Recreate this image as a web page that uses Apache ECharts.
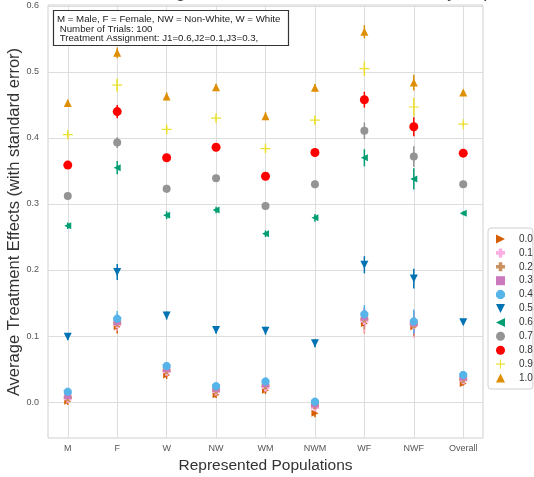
<!DOCTYPE html>
<html>
<head>
<meta charset="utf-8">
<script src="https://cdn.jsdelivr.net/npm/echarts@6/dist/echarts.min.js"></script>
<style>
html,body{margin:0;padding:0;background:#fff;}
#chart{width:534px;height:477px;}
</style>
</head>
<body>
<div id="chart"></div>
<script>
// ---- data ----
const categories = ['M', 'F', 'W', 'NW', 'WM', 'NWM', 'WF', 'NWF', 'Overall'];
const groupNames = ['0.0', '0.1', '0.2', '0.3', '0.4', '0.5', '0.6', '0.7', '0.8', '0.9', '1.0'];
const yTickValues = [0.0, 0.1, 0.2, 0.3, 0.4, 0.5, 0.6];

const mean00 = [0.001, 0.114, 0.041, 0.011, 0.018, -0.017, 0.119, 0.114, 0.028];
const mean01 = [0.005, 0.118, 0.046, 0.016, 0.022, -0.008, 0.123, 0.117, 0.033];
const mean02 = [0.007, 0.120, 0.048, 0.018, 0.025, -0.005, 0.126, 0.118, 0.035];
const mean03 = [0.010, 0.122, 0.051, 0.021, 0.028, -0.003, 0.129, 0.120, 0.038];
const mean04 = [0.0155, 0.126, 0.0545, 0.024, 0.031, 0.0005, 0.133, 0.122, 0.041];
const mean05 = [0.099, 0.197, 0.131, 0.109, 0.108, 0.089, 0.208, 0.187, 0.121];
const mean06 = [0.267, 0.355, 0.283, 0.291, 0.255, 0.279, 0.370, 0.338, 0.286];
const mean07 = [0.312, 0.393, 0.323, 0.339, 0.297, 0.330, 0.411, 0.372, 0.330];
const mean08 = [0.359, 0.440, 0.370, 0.386, 0.342, 0.378, 0.458, 0.417, 0.377];
const mean09 = [0.405, 0.480, 0.413, 0.430, 0.384, 0.427, 0.505, 0.447, 0.421];
const mean10 = [0.453, 0.529, 0.463, 0.477, 0.433, 0.476, 0.561, 0.484, 0.469];

const se00 = [0.005, 0.010, 0.006, 0.005, 0.006, 0.006, 0.015, 0.016, 0.003];
const se01 = [0.005, 0.010, 0.006, 0.006, 0.006, 0.006, 0.018, 0.020, 0.003];
const se02 = [0.005, 0.010, 0.006, 0.006, 0.006, 0.006, 0.016, 0.018, 0.003];
const se03 = [0.005, 0.011, 0.006, 0.006, 0.006, 0.006, 0.015, 0.018, 0.003];
const se04 = [0.005, 0.012, 0.006, 0.006, 0.006, 0.006, 0.014, 0.018, 0.003];
const se05 = [0.005, 0.012, 0.006, 0.005, 0.006, 0.006, 0.013, 0.015, 0.003];
const se06 = [0.005, 0.010, 0.006, 0.005, 0.005, 0.006, 0.013, 0.016, 0.003];
const se07 = [0.005, 0.008, 0.006, 0.005, 0.006, 0.006, 0.0125, 0.0155, 0.003];
const se08 = [0.005, 0.010, 0.006, 0.005, 0.006, 0.006, 0.012, 0.0145, 0.003];
const se09 = [0.005, 0.010, 0.006, 0.005, 0.006, 0.006, 0.011, 0.014, 0.003];
const se10 = [0.005, 0.008, 0.006, 0.005, 0.006, 0.006, 0.010, 0.012, 0.003];

const allMeans = [mean00, mean01, mean02, mean03, mean04, mean05, mean06, mean07, mean08, mean09, mean10];
const allSe = [se00, se01, se02, se03, se04, se05, se06, se07, se08, se09, se10];

// ---- styles ----
const colors = ['#d55e00', '#fbafe4', '#ca9161', '#cc78bc', '#56b4e9', '#0173b2', '#029e73', '#949494', '#ff0000', '#ece133', '#de8f05'];
const P_PLUS = 'path://M3,0H7V3H10V7H7V10H3V7H0V3H3Z';
const P_THINPLUS = 'path://M4.4,0H5.6V4.4H10V5.6H5.6V10H4.4V5.6H0V4.4H4.4Z';
const P_OCT = 'path://M3,0H7L10,3V7L7,10H3L0,7V3Z';
const P_RIGHT = 'path://M0,0L10,5L0,10Z';
const P_LEFT = 'path://M10,0L0,5L10,10Z';
const P_DOWN = 'path://M0,0H10L5,10Z';
const P_UP = 'path://M5,0L10,10H0Z';
const P_SQ = 'path://M0,0H10V10H0Z';
const symbols = [P_RIGHT, P_PLUS, P_PLUS, P_SQ, P_OCT, P_DOWN, P_LEFT, 'circle', 'circle', P_THINPLUS, P_UP];
const sizes = [7, 8, 8, 7, 8, 8, 7, 8, 9, 10, 8];
const FONT = "'Liberation Sans', Arial, sans-serif";

const series = [];
groupNames.forEach((g, k) => {
  const m = allMeans[k], s = allSe[k], col = colors[k];
  series.push({
    type: 'custom',
    silent: true,
    renderItem: function (params, api) {
      const x = api.value(0), y = api.value(1), e = api.value(2);
      const p1 = api.coord([x, y - e]);
      const p2 = api.coord([x, y + e]);
      return {type: 'line', shape: {x1: p1[0], y1: p1[1], x2: p2[0], y2: p2[1]}, style: {stroke: col, lineWidth: 1.5}};
    },
    encode: {x: 0, y: 1},
    data: categories.map((c, i) => [i, m[i], s[i]]),
    z: 2
  });
  series.push({
    name: g,
    type: 'scatter',
    symbol: symbols[k],
    symbolSize: sizes[k],
    itemStyle: {color: col, opacity: 1},
    data: categories.map((c, i) => [i, m[i]]),
    z: 2
  });
});

const chart = echarts.init(document.getElementById('chart'), null, {renderer: 'canvas'});
chart.setOption({
  animation: false,
  backgroundColor: '#fff',
  textStyle: {fontFamily: FONT},
  grid: {left: 48, right: 51, top: 5, bottom: 39, show: true, borderColor: '#d0d0d0', borderWidth: 1, containLabel: false, outerBoundsMode: 'none'},
  xAxis: {
    type: 'value', min: -0.4, max: 8.4,
    name: 'Represented Populations', nameLocation: 'middle', nameGap: 17,
    nameTextStyle: {fontSize: 15.5, color: '#333', fontFamily: FONT},
    axisLine: {show: false},
    axisTick: {show: false, customValues: categories.map((c, i) => i)},
    axisLabel: {customValues: categories.map((c, i) => i), formatter: v => categories[Math.round(v)] || '', fontSize: 9, color: '#555', margin: 6, fontFamily: FONT},
    splitLine: {show: true, lineStyle: {color: '#dedede', width: 1}}
  },
  yAxis: {
    type: 'value', min: -0.0545, max: 0.6015,
    axisLine: {show: false},
    axisTick: {show: false, customValues: yTickValues},
    axisLabel: {customValues: yTickValues, formatter: v => v.toFixed(1), fontSize: 9, color: '#555', margin: 9, fontFamily: FONT},
    splitLine: {show: true, lineStyle: {color: '#dedede', width: 1}}
  },
  legend: {
    data: groupNames,
    orient: 'vertical',
    left: 488, top: 228,
    padding: [6, 0, 6, 8],
    itemWidth: 9, itemHeight: 9, itemGap: 3.9,
    backgroundColor: '#fff',
    borderColor: '#d0d0d0', borderWidth: 1, borderRadius: 3,
    textStyle: {fontSize: 10, color: '#333', fontFamily: FONT, padding: [0, 0, 0, 9]}
  },
  graphic: [
    {type: 'text', left: 'center', top: -17, z: 10,
     style: {text: 'Plot of Estimated Average Effects on Decision Outcome by Population', fontSize: 18, fill: '#444', fontFamily: FONT}},
    {type: 'text', x: 14.5, y: 222, rotation: Math.PI / 2, z: 10,
     style: {text: 'Average Treatment Effects (with standard error)', fontSize: 16.5, fill: '#333', fontFamily: FONT, align: 'center', verticalAlign: 'middle'}},
    {type: 'rect', shape: {x: 53.5, y: 10.5, width: 235, height: 35}, z: 10,
     style: {fill: '#fff', stroke: '#333', lineWidth: 1.2}},
    {type: 'text', x: 57, y: 14.5, z: 11,
     style: {text: 'M = Male, F = Female, NW = Non-White, W = White\n Number of Trials: 100\n Treatment Assignment: J1=0.6,J2=0.1,J3=0.3,', fontSize: 9.7, lineHeight: 9.6, fill: '#222', fontFamily: FONT}}
  ],
  series: series
});
</script>
</body>
</html>
